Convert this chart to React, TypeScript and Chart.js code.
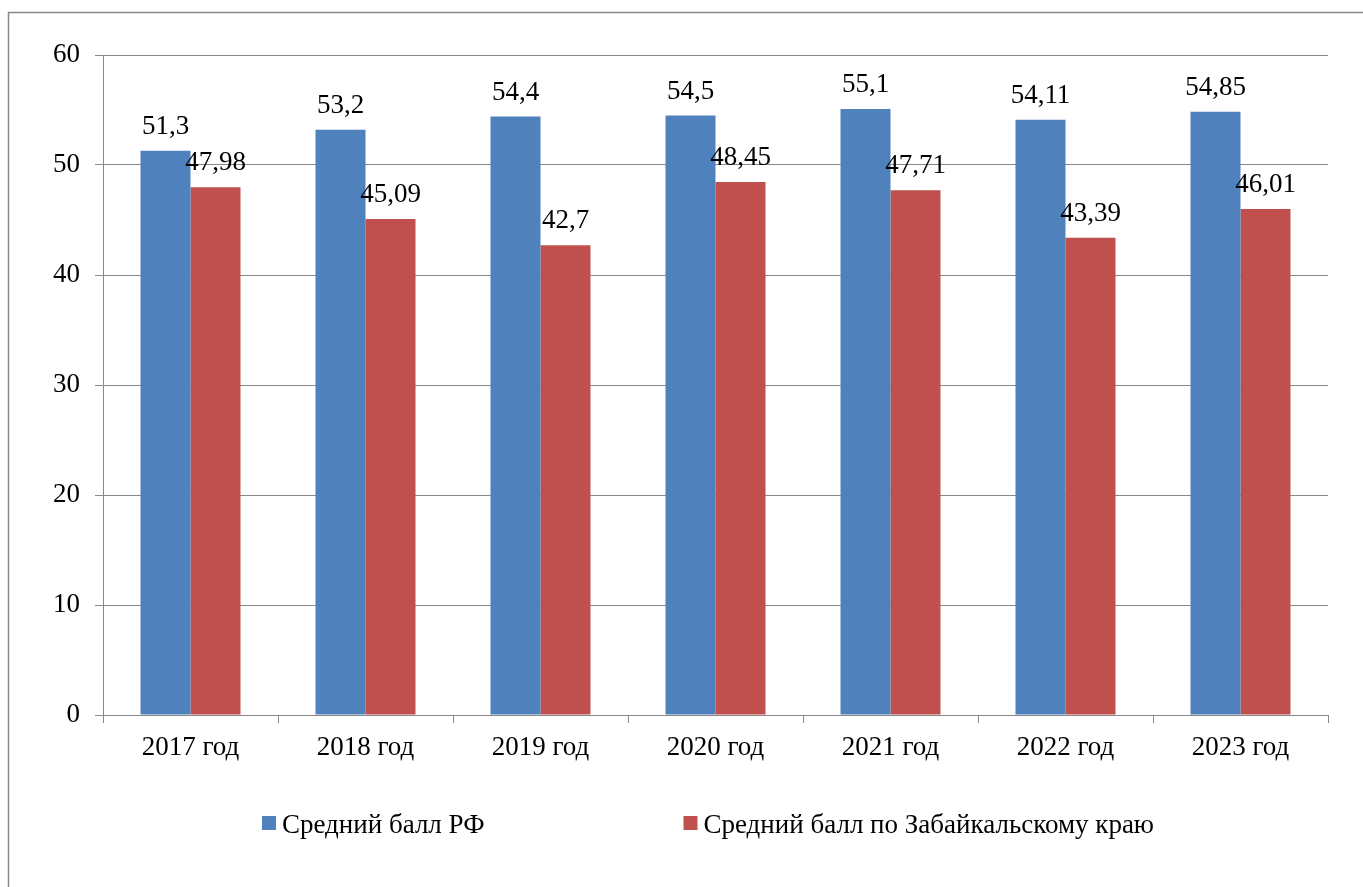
import React, { useEffect, useRef } from "react";
import { Chart, registerables } from "chart.js";

Chart.register(...registerables);

// Years on the category axis
const categories = ["2017 год", "2018 год", "2019 год", "2020 год", "2021 год", "2022 год", "2023 год"];
// Average score across the Russian Federation
const rfValues = [51.3, 53.2, 54.4, 54.5, 55.1, 54.11, 54.85];
// Average score in Zabaykalsky Krai
const zabValues = [47.98, 45.09, 42.7, 48.45, 47.71, 43.39, 46.01];
// Series names
const seriesNames = ["Средний балл РФ", "Средний балл по Забайкальскому краю"];
// Value axis range
const yMin = 0;
const yMax = 60;
const yStep = 10;

const FONT = "'Liberation Serif', 'Times New Roman', serif";
const FONT_SIZE = 27;
const GRID = "#888888";
const COLORS = ["#4F81BD", "#C0504D"];

const fmt = (v: number) => String(v).replace(".", ",");

// Thin frame along the top and left edges of the chart object
const framePlugin = {
  id: "frame",
  beforeDraw(chart: any) {
    const { ctx, width, height } = chart;
    ctx.save();
    ctx.strokeStyle = GRID;
    ctx.lineWidth = 1.5;
    ctx.beginPath();
    ctx.moveTo(8.5, height);
    ctx.lineTo(8.5, 12.5);
    ctx.lineTo(width, 12.5);
    ctx.stroke();
    ctx.restore();
  },
};

// Value labels above each bar
const valueLabelPlugin = {
  id: "valueLabels",
  afterDatasetsDraw(chart: any) {
    const { ctx } = chart;
    ctx.save();
    ctx.font = `${FONT_SIZE}px ${FONT}`;
    ctx.fillStyle = "#000";
    ctx.textAlign = "center";
    ctx.textBaseline = "alphabetic";
    chart.data.datasets.forEach((ds: any, di: number) => {
      const meta = chart.getDatasetMeta(di);
      meta.data.forEach((bar: any, i: number) => {
        ctx.fillText(fmt(ds.data[i]), bar.x, bar.y - 17);
      });
    });
    ctx.restore();
  },
};

// Legend row beneath the axis, two widely spaced entries
const legendPlugin = {
  id: "wideLegend",
  afterDraw(chart: any) {
    const { ctx } = chart;
    const box = 14;
    const boxGap = 6;
    const itemGap = 199;
    const centerX = 708;
    const baseline = 833;
    ctx.save();
    ctx.font = `${FONT_SIZE}px ${FONT}`;
    const items = chart.data.datasets.map((ds: any) => {
      const w = ctx.measureText(ds.label).width;
      return { label: ds.label, color: ds.backgroundColor, width: box + boxGap + w };
    });
    const total = items.reduce((s: number, it: any) => s + it.width, 0) + itemGap * (items.length - 1);
    let x = centerX - total / 2;
    ctx.textBaseline = "alphabetic";
    ctx.textAlign = "left";
    items.forEach((it: any) => {
      ctx.fillStyle = it.color;
      ctx.fillRect(x, 816, box, box);
      ctx.fillStyle = "#000";
      ctx.fillText(it.label, x + box + boxGap, baseline);
      x += it.width + itemGap;
    });
    ctx.restore();
  },
};

export default function App() {
  const canvasRef = useRef<HTMLCanvasElement | null>(null);

  useEffect(() => {
    if (!canvasRef.current) return;
    const chart = new Chart(canvasRef.current, {
      type: "bar",
      data: {
        labels: categories,
        datasets: [
          {
            label: seriesNames[0],
            data: rfValues,
            backgroundColor: COLORS[0],
            categoryPercentage: 4 / 7,
            barPercentage: 1,
          },
          {
            label: seriesNames[1],
            data: zabValues,
            backgroundColor: COLORS[1],
            categoryPercentage: 4 / 7,
            barPercentage: 1,
          },
        ],
      },
      options: {
        animation: false,
        responsive: true,
        maintainAspectRatio: false,
        layout: { padding: { left: 0, right: 35, top: 55, bottom: 100 } },
        plugins: {
          legend: { display: false },
          tooltip: { enabled: false },
        },
        scales: {
          x: {
            afterFit: (scale: any) => {
              scale.height = 72;
            },
            grid: {
              display: true,
              offset: true,
              drawOnChartArea: false,
              drawTicks: true,
              tickLength: 8,
              color: GRID,
              lineWidth: 1,
            },
            border: { display: true, color: GRID, width: 1 },
            ticks: {
              color: "#000",
              font: { family: FONT, size: FONT_SIZE },
              padding: 9,
              maxRotation: 0,
              autoSkip: false,
            },
          },
          y: {
            min: yMin,
            max: yMax,
            afterFit: (scale: any) => {
              scale.width = 103;
            },
            grid: {
              color: GRID,
              lineWidth: 1,
              drawTicks: true,
              tickLength: 8,
            },
            border: { display: true, color: GRID, width: 1 },
            ticks: {
              stepSize: yStep,
              color: "#000",
              font: { family: FONT, size: FONT_SIZE },
              padding: 15,
            },
          },
        },
      },
      plugins: [framePlugin, valueLabelPlugin, legendPlugin],
    });
    return () => chart.destroy();
  }, []);

  return (
    <div style={{ position: "fixed", left: 0, top: 0, width: 1363, height: 887, background: "#fff" }}>
      <canvas ref={canvasRef} />
    </div>
  );
}
